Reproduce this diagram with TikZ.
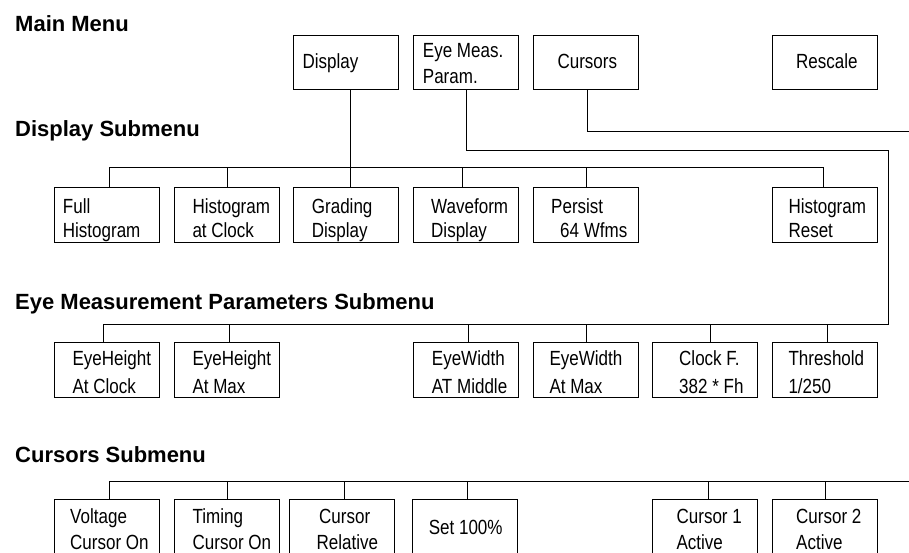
\documentclass[tikz,border=0pt]{standalone}
\usepackage{fontspec}
\setmainfont{Liberation Sans}
\newfontfamily\narrowf[FakeStretch=0.83]{Liberation Sans}
\newcommand\twoline[3][24pt]{\vtop{\baselineskip=#1\relax\hbox{#2}\hbox{#3}}}
\tikzset{
  box/.style={draw=black, line width=0.9pt, rectangle, minimum width=105pt, minimum height=55pt, inner sep=0pt, anchor=north west},
  mbox/.style={box, minimum height=54pt},
  txt/.style={anchor=base west, inner sep=0pt, font=\narrowf\fontsize{20.5}{24}\selectfont},
  head/.style={anchor=base west, inner sep=0pt, font=\bfseries\fontsize{22}{26}\selectfont},
  wire/.style={draw=black, line width=0.9pt}
}
\begin{document}
\begin{tikzpicture}[x=1pt,y=-1pt]
\useasboundingbox (0,0) rectangle (909,552);

% section headings
\node[head] (hmain) at (15,31) {Main Menu};
\node[head] (hdisp) at (15,136.7) {Display Submenu};
\node[head] (heye) at (15,309.3) {Eye Measurement Parameters Submenu};
\node[head] (hcur) at (15,462.7) {Cursors Submenu};

% main menu
\node[mbox] (disp) at (293,35) {};
\node[mbox] (eye) at (413,35) {};
\node[mbox] (cur) at (533,35) {};
\node[mbox] (resc) at (772,35) {};
\node[txt] (disp-t) at ([shift={(9.3,33.3)}]disp.north west) {Display};
\node[txt] (eye-t) at ([shift={(9.7,22.5)}]eye.north west) {\twoline[26pt]{Eye Meas.}{Param.}};
\node[txt] (cur-t) at ([shift={(24.3,33.3)}]cur.north west) {Cursors};
\node[txt] (resc-t) at ([shift={(24,33.3)}]resc.north west) {Rescale};

% display submenu
\node[box] (fh) at (54,187) {};
\node[box] (hc) at (174,187) {};
\node[box] (gd) at (293,187) {};
\node[box] (wd) at (413,187) {};
\node[box] (p64) at (533,187) {};
\node[box] (hr) at (772,187) {};
\node[txt] (fh-t) at ([shift={(8.7,26.3)}]fh.north west) {\twoline{Full}{Histogram}};
\node[txt] (hc-t) at ([shift={(18.3,26.3)}]hc.north west) {\twoline{Histogram}{at Clock}};
\node[txt] (gd-t) at ([shift={(18.7,26.3)}]gd.north west) {\twoline{Grading}{Display}};
\node[txt] (wd-t) at ([shift={(18,26.3)}]wd.north west) {\twoline{Waveform}{Display}};
\node[txt] (p64-t) at ([shift={(18,26.3)}]p64.north west) {\twoline{Persist}{\hspace*{9pt}64 Wfms}};
\node[txt] (hr-t) at ([shift={(16.3,26.3)}]hr.north west) {\twoline{Histogram}{Reset}};

% eye measurement submenu
\node[box] (ehc) at (54,342) {};
\node[box] (ehm) at (174,342) {};
\node[box] (ewm) at (413,342) {};
\node[box] (ewx) at (533,342) {};
\node[box] (clk) at (652,342) {};
\node[box] (thr) at (772,342) {};
\node[txt] (ehc-t) at ([shift={(18.3,23.7)}]ehc.north west) {\twoline[27.5pt]{EyeHeight}{At Clock}};
\node[txt] (ehm-t) at ([shift={(18.3,23.7)}]ehm.north west) {\twoline[27.5pt]{EyeHeight}{At Max}};
\node[txt] (ewm-t) at ([shift={(18.7,23.7)}]ewm.north west) {\twoline[27.5pt]{EyeWidth}{AT Middle}};
\node[txt] (ewx-t) at ([shift={(16.3,23.7)}]ewx.north west) {\twoline[27.5pt]{EyeWidth}{At Max}};
\node[txt] (clk-t) at ([shift={(27,23.7)}]clk.north west) {\twoline[27.5pt]{Clock F.}{382 * Fh}};
\node[txt] (thr-t) at ([shift={(16.3,23.7)}]thr.north west) {\twoline[27.5pt]{Threshold}{1/250}};

% cursors submenu
\node[box] (vc) at (54,499) {};
\node[box] (tc) at (174,499) {};
\node[box] (cr) at (289,499) {};
\node[box] (s100) at (412,499) {};
\node[box] (c1) at (652,499) {};
\node[box] (c2) at (772,499) {};
\node[txt] (vc-t) at ([shift={(16,24.3)}]vc.north west) {\twoline[25.7pt]{Voltage}{Cursor On}};
\node[txt] (tc-t) at ([shift={(18.5,24.3)}]tc.north west) {\twoline[25.7pt]{Timing}{Cursor On}};
\node[txt] (cr-t) at ([shift={(27.4,24.3)}]cr.north west) {\twoline[25.7pt]{\hspace*{2.6pt}Cursor}{Relative}};
\node[txt] (s100-t) at ([shift={(16.6,35)}]s100.north west) {Set 100\%};
\node[txt] (c1-t) at ([shift={(24.4,24.3)}]c1.north west) {\twoline[25.7pt]{Cursor 1}{Active}};
\node[txt] (c2-t) at ([shift={(24,24.3)}]c2.north west) {\twoline[25.7pt]{Cursor 2}{Active}};

% route coordinates
\coordinate (eyeturn) at (888,150.7);
\coordinate (eyedown) at (888,324);
\coordinate (curturn) at (913,131.7);
\coordinate (curdown) at (913,481);

% display connectors
\draw[wire] ([xshift=4]disp.south) -- ([xshift=4]gd.north);
\draw[wire] ([xshift=2]fh.north) -- ++(0,-20) -| ([xshift=-2]hr.north);
\draw[wire] (hc.north) -- ++(0,-20);
\draw[wire] ([xshift=-4]wd.north) -- ++(0,-20);
\draw[wire] (p64.north) -- ++(0,-20);

% eye connectors
\draw[wire] (eye.south) |- (eyeturn) -- (eyedown) -| ([xshift=-4]ehc.north);
\draw[wire] ([xshift=2]ehm.north) -- ++(0,-18);
\draw[wire] ([xshift=2]ewm.north) -- ++(0,-18);
\draw[wire] (ewx.north) -- ++(0,-18);
\draw[wire] ([xshift=5]clk.north) -- ++(0,-18);
\draw[wire] ([xshift=2]thr.north) -- ++(0,-18);

% cursor connectors
\draw[wire] ([xshift=1]cur.south) |- (curturn) -- (curdown) -| ([xshift=2]vc.north);
\draw[wire] (tc.north) -- ++(0,-18);
\draw[wire] ([xshift=2]cr.north) -- ++(0,-18);
\draw[wire] ([xshift=2]s100.north) -- ++(0,-18);
\draw[wire] ([xshift=3]c1.north) -- ++(0,-18);
\draw[wire] (c2.north) -- ++(0,-18);
\end{tikzpicture}
\end{document}
